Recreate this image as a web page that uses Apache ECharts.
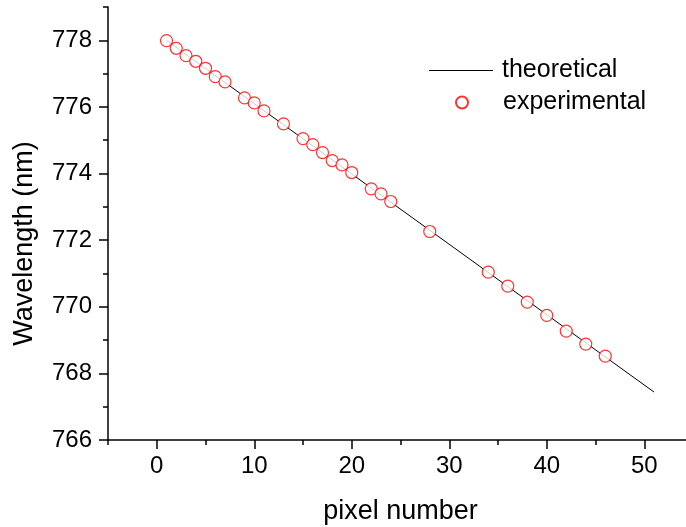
<!DOCTYPE html>
<html>
<head>
<meta charset="utf-8">
<script src="https://cdn.jsdelivr.net/npm/echarts@6/dist/echarts.min.js"></script>
<style>
html,body{margin:0;padding:0;background:#fff;}
#chart{width:686px;height:527px;}
</style>
</head>
<body>
<div id="chart"></div>
<script>
// Measured calibration points: pixel index vs. wavelength (nm)
const pixelNumbers = [1, 2, 3, 4, 5, 6, 7, 9, 10, 11, 13, 15, 16, 17, 18, 19, 20, 22, 23, 24, 28, 34, 36, 38, 40, 42, 44, 46];
const measuredWavelengths = [777.99, 777.76, 777.54, 777.37, 777.16, 776.91, 776.75, 776.27, 776.12, 775.88, 775.49, 775.05, 774.87, 774.63, 774.39, 774.26, 774.03, 773.54, 773.39, 773.16, 772.26, 771.04, 770.62, 770.14, 769.74, 769.27, 768.88, 768.52];

// Theoretical dispersion line, given by its two end points
const theoryPixels = [1, 51];
const theoryWavelengths = [778.0, 767.44];

const seriesNames = ['theoretical', 'experimental'];

// Major (labelled) tick positions
const xTicks = [0, 10, 20, 30, 40, 50];
const yTicks = [766, 768, 770, 772, 774, 776, 778];

const FONT = 'Liberation Sans, Arial, sans-serif';
const AXIS_COLOR = '#000';

function majorAxis(ticks, extra) {
  return Object.assign({
    type: 'value',
    axisLine: { show: true, onZero: false, lineStyle: { color: AXIS_COLOR, width: 1.5 } },
    axisTick: { show: true, inside: false, length: 9, customValues: ticks,
      lineStyle: { color: AXIS_COLOR, width: 1.5 } },
    splitLine: { show: false }
  }, extra);
}

function minorAxis(extra) {
  return Object.assign({
    type: 'value',
    axisLine: { show: false, onZero: false },
    axisTick: { show: true, inside: false, length: 5,
      lineStyle: { color: AXIS_COLOR, width: 1.5 } },
    axisLabel: { show: false },
    splitLine: { show: false }
  }, extra);
}

const chart = echarts.init(document.getElementById('chart'));
chart.setOption({
  animation: false,
  backgroundColor: '#fff',
  grid: { left: 108, top: 7, right: -7, bottom: 87, containLabel: false, outerBoundsMode: 'none' },
  legend: [
    {
      data: [{ name: seriesNames[0], icon: 'rect' }],
      left: 424, top: 53,
      itemWidth: 64, itemHeight: 1.2, itemGap: 0,
      textStyle: { fontFamily: FONT, fontSize: 25, color: '#000', padding: [0, 0, 0, 4] }
    },
    {
      data: [{ name: seriesNames[1], icon: 'circle' }],
      left: 450, top: 85,
      itemWidth: 12, itemHeight: 12, itemGap: 0,
      textStyle: { fontFamily: FONT, fontSize: 25, color: '#000', padding: [0, 0, 0, 30] }
    }
  ],
  xAxis: [
    majorAxis(xTicks, {
      min: -5, max: 55, position: 'bottom',
      name: 'pixel number', nameLocation: 'middle', nameGap: 58,
      nameTextStyle: { fontFamily: FONT, fontSize: 27, color: '#000' },
      axisLabel: { fontFamily: FONT, fontSize: 24, color: '#000', margin: 14, customValues: xTicks }
    }),
    minorAxis({ min: -5, max: 55, interval: 5, position: 'bottom' })
  ],
  yAxis: [
    majorAxis(yTicks, {
      min: 766, max: 779, position: 'left',
      name: 'Wavelength (nm)', nameLocation: 'middle', nameGap: 70, nameRotate: 90,
      nameTextStyle: { fontFamily: FONT, fontSize: 27, color: '#000', padding: [0, 40, 0, 0] },
      axisLabel: { fontFamily: FONT, fontSize: 24, color: '#000', margin: 16, customValues: yTicks }
    }),
    minorAxis({ min: 766, max: 779, interval: 1, position: 'left' })
  ],
  series: [
    {
      name: seriesNames[0],
      type: 'line',
      xAxisIndex: 0, yAxisIndex: 0,
      data: theoryPixels.map((x, i) => [x, theoryWavelengths[i]]),
      showSymbol: false, symbol: 'none',
      lineStyle: { color: '#000', width: 1 },
      itemStyle: { color: '#000' },
      z: 1
    },
    {
      name: seriesNames[1],
      type: 'scatter',
      xAxisIndex: 0, yAxisIndex: 0,
      data: pixelNumbers.map((x, i) => [x, measuredWavelengths[i]]),
      symbol: 'circle', symbolSize: 12,
      itemStyle: { color: '#fff', borderColor: '#ff0000', borderWidth: 1.2 },
      z: 2
    }
  ]
});
</script>
</body>
</html>
